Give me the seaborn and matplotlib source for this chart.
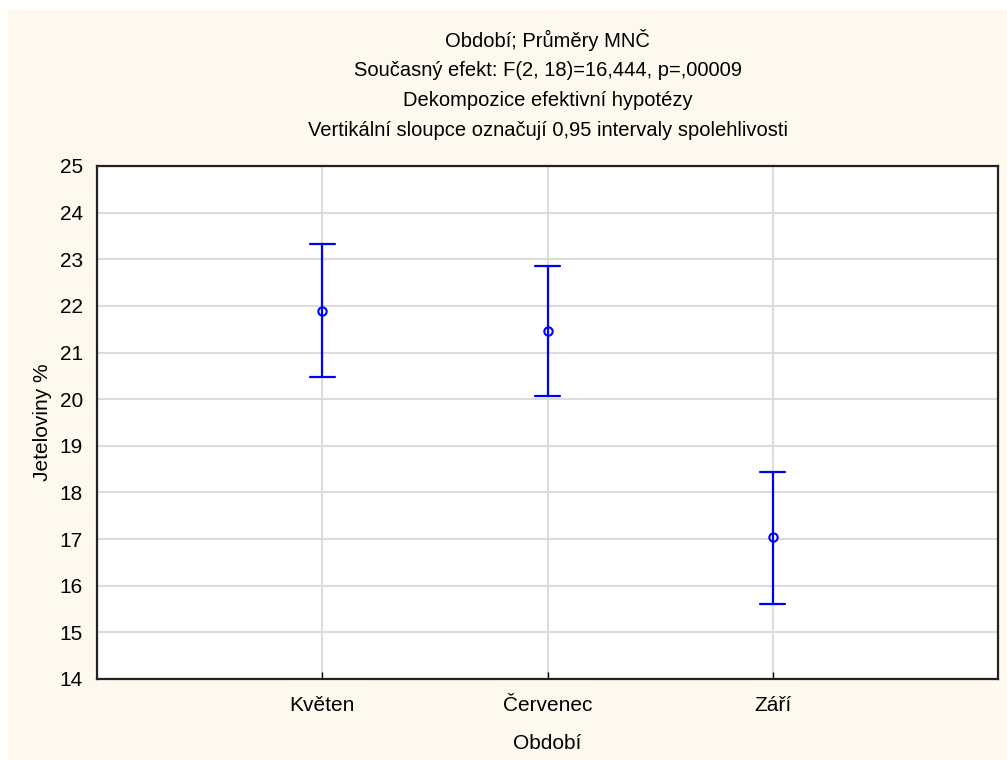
import numpy as np
import pandas as pd
import matplotlib
matplotlib.use('Agg')
import matplotlib.pyplot as plt
import seaborn as sns
from matplotlib.patches import Rectangle

# values (means with 0.95 CI)
periods = ['Květen', 'Červenec', 'Září']
means = [21.9, 21.47, 17.04]
ci_low = [20.48, 20.06, 15.6]
ci_high = [23.32, 22.85, 18.43]
y_ticks = list(range(14, 26))

title_lines = [
    'Období; Průměry MNČ',
    'Současný efekt: F(2, 18)=16,444, p=,00009',
    'Dekompozice efektivní hypotézy',
    'Vertikální sloupce označují 0,95 intervaly spolehlivosti',
]

# three rows per category: median -> mean, min/max -> CI
df = pd.DataFrame({
    'Období': np.repeat(periods, 3),
    'value': np.ravel(np.column_stack([ci_low, means, ci_high])),
})

sns.set_style('white')
plt.rcParams['font.family'] = ['Liberation Sans Narrow', 'Liberation Sans', 'DejaVu Sans']
plt.rcParams['text.color'] = 'black'
plt.rcParams['axes.labelcolor'] = 'black'
plt.rcParams['xtick.color'] = 'black'
plt.rcParams['ytick.color'] = 'black'

W, H = 1007, 760
fig = plt.figure(figsize=(W / 100, H / 100), dpi=100)
fig.patch.set_facecolor('white')
fig.patches.append(Rectangle((8 / W, 0), 1 - 8 / W, 1 - 10 / H,
                             transform=fig.transFigure, facecolor='#fef9ee',
                             edgecolor='none', zorder=-10))

ax = fig.add_axes([97 / W, 1 - 679 / H, (998 - 97) / W, (679 - 166) / H])
ax.set_facecolor('white')

sns.pointplot(data=df, x='Období', y='value', order=periods,
              estimator=np.median, errorbar=lambda v: (v.min(), v.max()),
              linestyle='none', marker='o', markersize=6, markerfacecolor='white',
              markeredgewidth=1.5, color='#0000ff', capsize=0.11,
              err_kws={'linewidth': 1.6}, ax=ax)

ax.set_xlim(-1, 3)
ax.set_ylim(14, 25)
ax.set_yticks(y_ticks)
ax.set_yticklabels([str(t) for t in y_ticks])
ax.grid(True, color='#dcdcdc', linewidth=1.5, zorder=0)
ax.set_axisbelow(True)
ax.tick_params(axis='y', length=0, labelsize=15, pad=10)
ax.tick_params(axis='x', direction='in', length=5, width=1, labelsize=15, pad=12, bottom=True)
for s in ax.spines.values():
    s.set_color('#222222')
    s.set_linewidth(1.6)
    s.set_visible(True)

ax.set_xlabel('Období', fontsize=15, labelpad=14)
ax.set_ylabel('Jeteloviny %', fontsize=15, labelpad=6)

for i, line in enumerate(title_lines):
    fig.text(0.5 * (97 + 998) / W, 1 - (40 + 30 * i) / H, line,
             ha='center', va='center', fontsize=14.5)

fig.savefig('out.png', dpi=100)
